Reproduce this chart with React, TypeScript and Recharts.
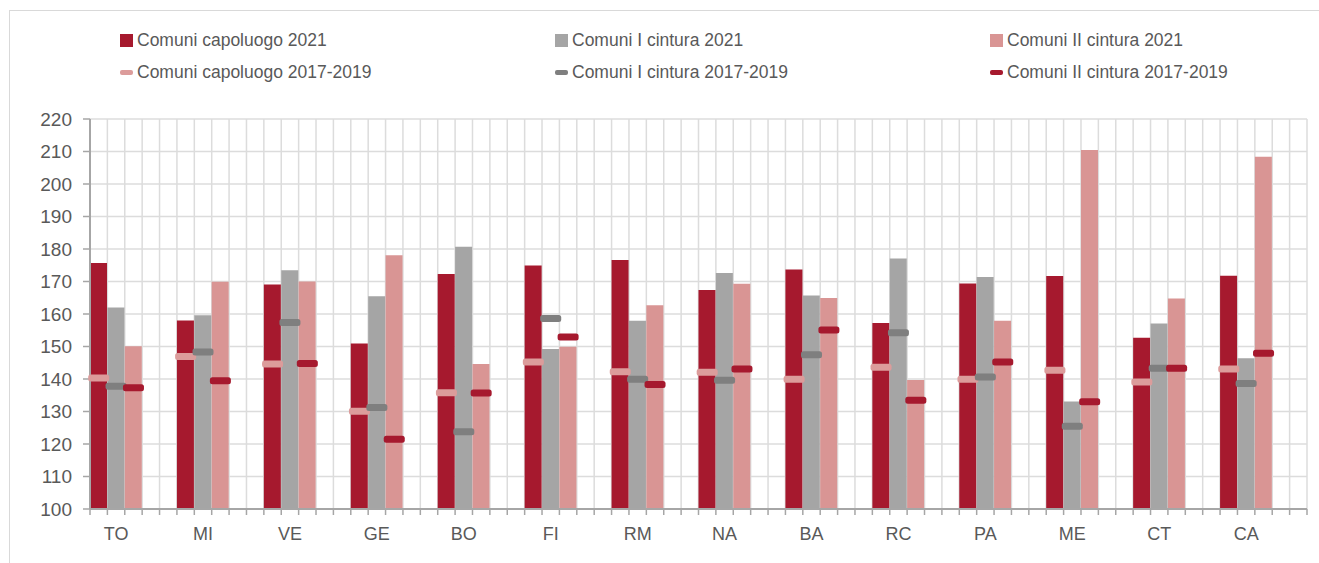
import React from "react";
import { ComposedChart, Bar, Line, XAxis, YAxis, CartesianGrid, Legend } from "recharts";

const CITIES = ["TO", "MI", "VE", "GE", "BO", "FI", "RM", "NA", "BA", "RC", "PA", "ME", "CT", "CA"];

// 2021 values
const CAPOLUOGO_2021 = [175.7, 158.0, 169.1, 150.9, 172.3, 174.9, 176.6, 167.4, 173.7, 157.2, 169.4, 171.7, 152.7, 171.8];
const CINTURA_I_2021 = [162.0, 159.6, 173.5, 165.5, 180.7, 149.2, 157.9, 172.6, 165.7, 177.1, 171.4, 133.1, 157.1, 146.4];
const CINTURA_II_2021 = [150.1, 169.9, 170.0, 178.1, 144.6, 149.9, 162.7, 169.3, 164.9, 139.7, 157.9, 210.5, 164.8, 208.4];

// 2017-2019 averages
const CAPOLUOGO_1719 = [140.3, 146.9, 144.6, 130.1, 135.8, 145.2, 142.2, 142.1, 139.9, 143.6, 139.9, 142.7, 139.1, 143.1];
const CINTURA_I_1719 = [137.8, 148.3, 157.4, 131.2, 123.8, 158.6, 139.9, 139.6, 147.5, 154.2, 140.6, 125.5, 143.3, 138.6];
const CINTURA_II_1719 = [137.3, 139.5, 144.8, 121.5, 135.7, 152.9, 138.3, 143.1, 155.1, 133.5, 145.2, 133.0, 143.3, 147.9];

const Y_TICKS = [100, 110, 120, 130, 140, 150, 160, 170, 180, 190, 200, 210, 220];

const SERIES_2021 = ["Comuni capoluogo 2021", "Comuni I cintura 2021", "Comuni II cintura 2021"];
const SERIES_1719 = ["Comuni capoluogo 2017-2019", "Comuni I cintura 2017-2019", "Comuni II cintura 2017-2019"];

const BAR_COLORS = ["#a6192e", "#a5a5a5", "#d99594"];
const DASH_COLORS = ["#dc9c9b", "#7f7f7f", "#a6192e"];

// each city takes 5 slots: three bars and two empty ones
const SLOTS = 5;

const data = CITIES.flatMap((city, i) => [
  { slot: `${city}-0`, cap: CAPOLUOGO_2021[i], capOld: CAPOLUOGO_1719[i] },
  { slot: `${city}-1`, c1: CINTURA_I_2021[i], c1Old: CINTURA_I_1719[i] },
  { slot: `${city}-2`, c2: CINTURA_II_2021[i], c2Old: CINTURA_II_1719[i] },
  { slot: `${city}-3` },
  { slot: `${city}-4` },
]);

const W = 1311;
const H = 555;
const MARGIN = { top: 51, right: 12, bottom: 24, left: 32 };
const Y_AXIS_W = 50;
const PLOT_LEFT = MARGIN.left + Y_AXIS_W;
const PLOT_W = W - PLOT_LEFT - MARGIN.right;
const BW = PLOT_W / data.length;

const FONT = "'Liberation Sans', Arial, sans-serif";
const TEXT = "#595959";
const AXIS = "#a6a6a6";
const FRAME = "#d9d9d9";

const gridX = Array.from({ length: data.length + 1 }, (_, i) => PLOT_LEFT + i * BW);

function XTick(props: any) {
  const { x, y, index } = props;
  const left = x - BW / 2;
  const label = index % SLOTS === 1 ? CITIES[Math.floor(index / SLOTS)] : null;
  return (
    <g>
      <line x1={left} x2={left} y1={y - 8} y2={y - 2} stroke={AXIS} strokeWidth={1.5} />
      {index === data.length - 1 && (
        <line x1={x + BW / 2} x2={x + BW / 2} y1={y - 8} y2={y - 2} stroke={AXIS} strokeWidth={1.5} />
      )}
      {label && (
        <text x={x} y={y + 23} textAnchor="middle" fill={TEXT} fontSize={18} fontFamily={FONT}>
          {label}
        </text>
      )}
    </g>
  );
}

const dash = (color: string) => (props: any) => {
  const { cx, cy, index, value } = props;
  if (value == null || cy == null || cx == null) return <g key={index} />;
  return <rect key={index} x={cx - 10.5} y={cy - 3.5} width={21} height={7} rx={2.5} fill={color} />;
};

function LegendBox() {
  const cols = [112, 547, 982];
  return (
    <div style={{ position: "relative", height: 60, fontFamily: FONT, fontSize: 17.5, color: TEXT }}>
      {SERIES_2021.map((name, i) => (
        <div key={name} style={{ position: "absolute", left: cols[i], top: 2, height: 32, display: "flex", alignItems: "center", whiteSpace: "nowrap" }}>
          <span style={{ width: 13, height: 13, background: BAR_COLORS[i], marginRight: 4, display: "inline-block" }} />
          {name}
        </div>
      ))}
      {SERIES_1719.map((name, i) => (
        <div key={name} style={{ position: "absolute", left: cols[i], top: 34, height: 32, display: "flex", alignItems: "center", whiteSpace: "nowrap" }}>
          <span style={{ width: 13, height: 5, borderRadius: 2, background: DASH_COLORS[i], marginRight: 4, display: "inline-block" }} />
          {name}
        </div>
      ))}
    </div>
  );
}

export default function App() {
  // fixed so the page does not overflow and grow scrollbars
  return (
    <div style={{ position: "fixed", left: 8, top: 8, width: W, height: H, background: "#fff" }}>
      {/* frame: only the top and left edges are visible in the original */}
      <div style={{ position: "absolute", left: 1, top: 2, width: W - 1, height: 1, background: FRAME }} />
      <div style={{ position: "absolute", left: 1, top: 2, width: 1, height: H - 2, background: FRAME }} />
      <ComposedChart width={W} height={H} data={data} margin={MARGIN} barCategoryGap={0} barGap={0}>
        <CartesianGrid stroke="#dcdcdc" strokeWidth={1.5} verticalPoints={gridX} />
        <XAxis
          dataKey="slot"
          interval={0}
          tickLine={false}
          axisLine={{ stroke: AXIS, strokeWidth: 2 }}
          tick={<XTick />}
        />
        <XAxis xAxisId="b" dataKey="slot" hide />
        <XAxis xAxisId="c" dataKey="slot" hide />
        <YAxis
          width={Y_AXIS_W}
          domain={[100, 220]}
          ticks={Y_TICKS}
          interval={0}
          tickSize={7}
          tickMargin={11}
          axisLine={{ stroke: AXIS, strokeWidth: 2 }}
          tickLine={{ stroke: AXIS, strokeWidth: 1.5 }}
          tick={{ fill: TEXT, fontSize: 19, fontFamily: FONT }}
        />
        <Legend verticalAlign="top" content={<LegendBox />} wrapperStyle={{ top: 14, left: 0, width: W }} />
        <Bar dataKey="cap" name={SERIES_2021[0]} fill={BAR_COLORS[0]} isAnimationActive={false} />
        <Bar dataKey="c1" xAxisId="b" name={SERIES_2021[1]} fill={BAR_COLORS[1]} isAnimationActive={false} />
        <Bar dataKey="c2" xAxisId="c" name={SERIES_2021[2]} fill={BAR_COLORS[2]} isAnimationActive={false} />
        <Line dataKey="capOld" name={SERIES_1719[0]} stroke="none" dot={dash(DASH_COLORS[0])} activeDot={false} isAnimationActive={false} />
        <Line dataKey="c1Old" name={SERIES_1719[1]} stroke="none" dot={dash(DASH_COLORS[1])} activeDot={false} isAnimationActive={false} />
        <Line dataKey="c2Old" name={SERIES_1719[2]} stroke="none" dot={dash(DASH_COLORS[2])} activeDot={false} isAnimationActive={false} />
      </ComposedChart>
    </div>
  );
}
